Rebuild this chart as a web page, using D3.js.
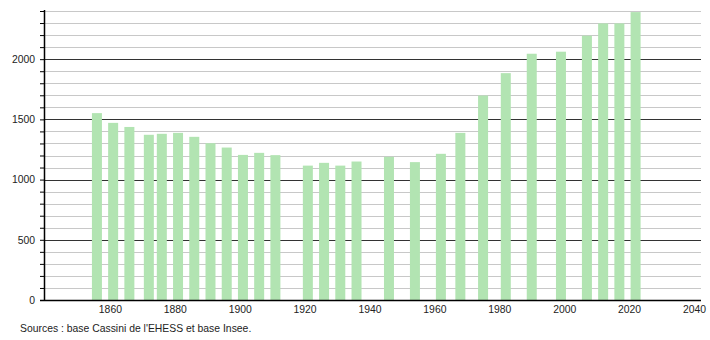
<!DOCTYPE html>
<html><head><meta charset="utf-8">
<script src="https://cdn.jsdelivr.net/npm/d3@7"></script>
<style>body{margin:0;background:#fff}svg{display:block;font-family:"Liberation Sans",Arial,sans-serif}</style>
</head><body><svg id="c" width="710" height="340"></svg>
<script>
const years = [1856,1861,1866,1872,1876,1881,1886,1891,1896,1901,1906,1911,1921,1926,1931,1936,1946,1954,1962,1968,1975,1982,1990,1999,2007,2012,2017,2022];
const population = [1552,1471,1437,1372,1380,1388,1355,1302,1266,1205,1222,1203,1116,1139,1116,1150,1189,1145,1214,1388,1698,1884,2045,2062,2195,2297,2297,2391];
const xTickLabels = [1860,1880,1900,1920,1940,1960,1980,2000,2020,2040];
const yTickLabels = [0,500,1000,1500,2000];
const sourceText = "Sources : base Cassini de l'EHESS et base Insee.";

const svg = d3.select("#c");
const x = d3.scaleLinear().domain([1840,2040]).range([45,694]);
const y = d3.scaleLinear().domain([0,2400]).range([300,11]);
const left = 44, right = 701;
const fs = 10.4;

// minor gridlines
svg.append("g").selectAll("line").data(d3.range(100,2401,100).filter(v=>v%500!==0)).join("line")
  .attr("x1",left).attr("x2",right).attr("y1",d=>Math.round(y(d))+0.5).attr("y2",d=>Math.round(y(d))+0.5)
  .attr("stroke","#c8c8c8").attr("stroke-width",1);
// major gridlines
svg.append("g").selectAll("line").data([500,1000,1500,2000]).join("line")
  .attr("x1",left).attr("x2",right).attr("y1",d=>Math.round(y(d))+0.5).attr("y2",d=>Math.round(y(d))+0.5)
  .attr("stroke","#333").attr("stroke-width",1);

// bars
const bw = 10;
svg.append("g").selectAll("rect").data(years.map((yr,i)=>({yr,v:population[i]}))).join("rect")
  .attr("x",d=>x(d.yr)-bw/2).attr("width",bw)
  .attr("y",d=>y(d.v)).attr("height",d=>y(0)-y(d.v))
  .attr("fill","#b2e4b2");

// y axis
const ya = svg.append("g").attr("transform",`translate(${left},0)`)
  .call(d3.axisLeft(y).tickValues(d3.range(0,2401,100)).tickSize(4).tickFormat(d=>yTickLabels.includes(d)?d:""));
ya.select(".domain").attr("d",`M0.5,${y(2400)-1}V300.5`).attr("stroke","#000").attr("stroke-width",1.5);
ya.selectAll(".tick line").attr("stroke","#000");
ya.selectAll(".tick text").attr("font-size",fs).attr("fill","#222").attr("x",-9).attr("font-family","Liberation Sans, Arial, sans-serif");

// x axis
const xa = svg.append("g").attr("transform","translate(0,300)")
  .call(d3.axisBottom(x).tickValues(xTickLabels).tickSize(0).tickFormat(d3.format("d")));
xa.select(".domain").attr("d",`M${left-4},0.5H${right}`).attr("stroke","#000").attr("stroke-width",1.5);
xa.selectAll(".tick text").attr("font-size",fs).attr("fill","#222").attr("dy","0.71em").attr("y",6).attr("font-family","Liberation Sans, Arial, sans-serif");

svg.append("text").attr("x",20).attr("y",332).attr("font-size",fs).attr("fill","#222").text(sourceText);
</script></body></html>
